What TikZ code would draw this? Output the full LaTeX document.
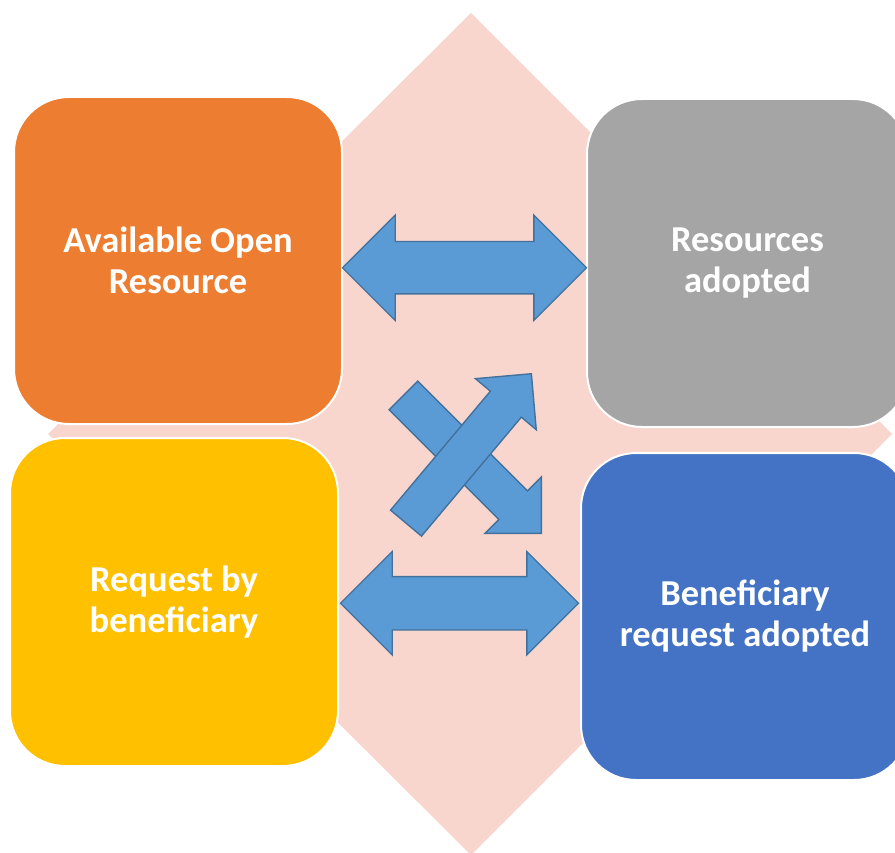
\documentclass[tikz,border=0pt]{standalone}
\usepackage{fontspec}
\setmainfont{Carlito}
\usetikzlibrary{shapes.arrows, positioning, calc}

\definecolor{diamondPink}{RGB}{248,214,206}
\definecolor{openOrange}{RGB}{237,125,49}
\definecolor{adoptGray}{RGB}{165,165,165}
\definecolor{requestYellow}{RGB}{255,192,0}
\definecolor{benefBlue}{RGB}{68,114,196}
\definecolor{arrowFill}{RGB}{91,155,213}
\definecolor{arrowLine}{RGB}{65,113,156}

\begin{document}
\begin{tikzpicture}[x=1pt, y=-1pt,
    box/.style={rectangle, rounded corners=55pt, draw=white, line width=2pt, text=white, align=center, font=\fontsize{36.5}{41}\selectfont\bfseries},
    twoWay/.style={double arrow, inner xsep=0pt, fill=arrowFill, draw=arrowLine, line width=1.4pt},
    oneWay/.style={single arrow, single arrow head extend=19.5pt, inner xsep=0pt, inner ysep=19.5pt, minimum height=195pt, fill=arrowFill, draw=arrowLine, line width=1.4pt}]

\useasboundingbox (0,0) rectangle (895,853);
\clip (0,0) rectangle (895,853);

% background diamond
\fill[diamondPink] (471,13) -- (892,434) -- (471,855) -- (48,434) -- cycle;

% the four boxes
\node[box, fill=openOrange, minimum width=328pt, minimum height=327pt] (openRes) at (178,260.5) {Available Open\\Resource};
\node[box, fill=adoptGray, minimum width=321pt, minimum height=328pt] (adoptRes) at (747.5,263) {Resources\\adopted};
\node[box, fill=requestYellow, minimum width=328pt, minimum height=328pt] (requestBy) at (174,602) {Request by\\beneficiary};
\node[box, fill=benefBlue, minimum width=328pt, minimum height=327pt] (benefAdopt) at (745,616.5) {Beneficiary\\request adopted};

% arrows between the boxes
\node[twoWay, minimum height=244pt, inner ysep=25.5pt, double arrow head extend=26.5pt] (topLink) at ($(openRes.east)!0.5!(adoptRes.west)+(0,6)$) {};
\node[twoWay, minimum height=238pt, inner ysep=26pt, double arrow head extend=25pt] (bottomLink) at ($(requestBy.east)!0.5!(benefAdopt.west)+(0,-6)$) {};

\node[oneWay, rotate=-45, anchor=tip] (crossDown) at (542,534) {};
\node[oneWay, rotate=50, anchor=tip] (crossUp) at (532,373) {};

\end{tikzpicture}
\end{document}
